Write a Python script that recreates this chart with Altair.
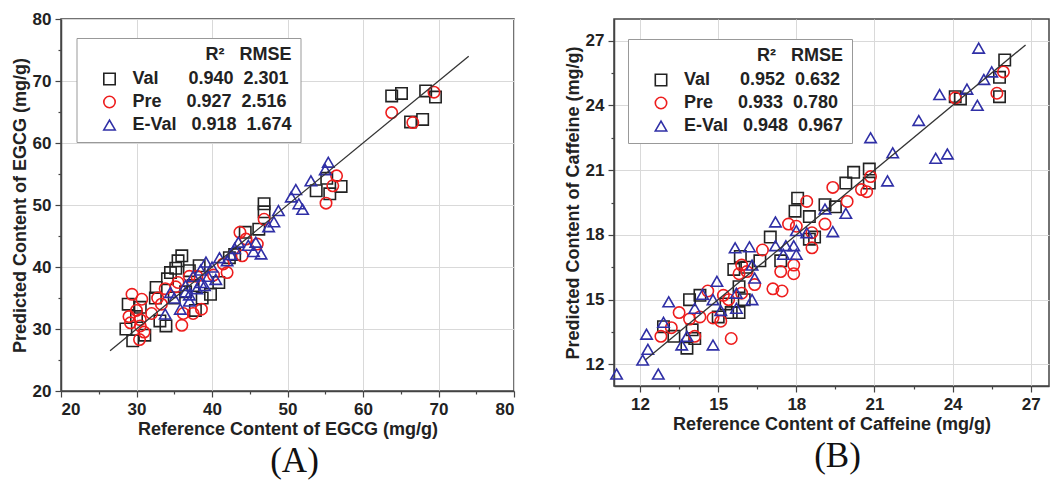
import altair as alt
import pandas as pd

# ---------------- Panel A : EGCG ----------------
a_val_x = [68.3, 69.6, 63.8, 65.1, 67.9, 66.3, 46.9, 46.9, 53.8, 57.1, 55.2, 55.6, 44.4, 46.2,
           36.0, 35.5, 34.5, 35.2, 34.1, 32.6, 32.5, 28.9, 28.6, 29.5, 31.1, 33.1, 33.9, 37.0,
           38.3, 39.8, 40.9, 38.7, 36.5, 37.5, 30.0, 30.5, 35.0, 37.8, 42.3, 43.0]
a_val_y = [68.4, 67.4, 67.6, 68.0, 63.8, 63.4, 50.2, 48.9, 52.3, 53.0, 54.3, 51.8, 45.6, 46.1,
           41.8, 41.0, 39.1, 39.8, 38.1, 36.7, 35.0, 34.0, 30.0, 28.1, 29.0, 31.3, 30.5, 39.4,
           40.2, 35.6, 37.5, 35.0, 36.0, 37.0, 32.0, 33.5, 35.0, 33.0, 41.5, 42.0]

a_pre_x = [69.4, 63.8, 66.6, 56.5, 56.0, 55.1, 46.9, 46.0, 43.7, 44.5, 44.0, 42.0, 40.2, 37.0,
           35.5, 33.8, 29.4, 30.7, 29.0, 29.2, 30.0, 30.5, 30.5, 30.4, 31.0, 32.0, 32.8, 33.3,
           36.0, 36.2, 38.6, 37.5, 35.2, 38.0, 41.5]
a_pre_y = [68.2, 64.9, 63.3, 54.7, 53.1, 50.3, 47.7, 43.7, 45.6, 44.5, 41.8, 39.1, 38.7, 38.5,
           37.5, 36.5, 35.6, 34.8, 32.0, 31.0, 33.0, 31.5, 30.5, 28.3, 29.5, 32.5, 35.0, 34.0,
           30.6, 32.5, 33.2, 32.5, 36.8, 38.5, 40.5]

a_ev_x = [55.4, 55.0, 53.1, 51.1, 50.5, 51.5, 52.0, 48.8, 48.2, 47.5, 46.5, 45.5, 45.8, 44.8,
          43.5, 43.0, 42.5, 42.0, 41.0, 40.0, 39.2, 38.5, 39.5, 38.5, 37.5, 36.5, 37.0, 35.8,
          37.0, 35.0, 34.5, 33.8, 36.5, 38.0, 40.5, 39.0]
a_ev_y = [56.9, 55.7, 53.9, 52.5, 51.3, 50.2, 49.3, 49.1, 47.3, 46.5, 42.1, 42.5, 44.0, 43.5,
          44.0, 43.0, 42.0, 41.0, 41.5, 40.0, 40.8, 39.5, 38.5, 37.5, 38.5, 37.0, 35.5, 33.2,
          34.5, 35.0, 35.9, 32.4, 36.0, 36.5, 38.0, 37.0]

a_line = [26.5, 74.0]
a_stats = {"Val": ("0.940", "2.301"), "Pre": ("0.927", "2.516"), "E-Val": ("0.918", "1.674")}

# ---------------- Panel B : Caffeine ----------------
b_val_x = [26.0, 25.8, 25.8, 24.3, 24.1, 20.8, 20.8, 20.2, 19.9, 19.5, 19.1, 18.05, 17.95, 18.5,
           18.7, 17.0, 16.6, 15.85, 15.6, 16.1, 15.8, 15.5, 15.8, 15.3, 13.9, 14.3, 14.0, 14.1,
           13.8, 13.3, 12.9, 15.0, 16.0, 18.5, 17.4]
b_val_y = [26.1, 25.3, 24.4, 24.3, 24.4, 21.05, 20.4, 20.9, 20.4, 19.3, 19.4, 19.7, 19.1, 18.85,
           17.9, 17.9, 16.8, 17.0, 16.4, 16.5, 15.6, 14.4, 14.4, 14.8, 15.0, 15.2, 13.6, 13.2,
           12.75, 13.3, 13.75, 14.2, 15.0, 17.8, 16.8]

b_pre_x = [25.95, 25.7, 24.1, 20.85, 20.7, 20.5, 19.4, 19.95, 18.4, 19.1, 17.7, 18.0, 18.6, 18.6,
           16.7, 17.9, 17.9, 17.4, 17.1, 17.45, 15.9, 15.8, 16.1, 16.4, 15.9, 14.6, 15.2, 15.4,
           14.8, 15.1, 13.5, 13.9, 14.3, 13.2, 12.8, 14.1, 15.5]
b_pre_y = [25.55, 24.56, 24.35, 20.7, 20.0, 20.1, 20.2, 19.55, 19.55, 18.5, 18.5, 18.4, 18.1, 17.4,
           17.3, 16.6, 16.2, 16.3, 15.5, 15.4, 16.6, 16.2, 16.3, 15.7, 15.3, 15.4, 15.2, 15.0,
           14.15, 14.0, 14.4, 14.1, 14.2, 13.7, 13.3, 13.3, 13.2]

b_ev_x = [25.0, 25.5, 25.2, 24.55, 23.5, 24.95, 22.7, 23.35, 23.8, 20.85, 21.7, 21.5, 19.9, 19.4,
          19.1, 18.4, 18.0, 17.9, 18.0, 17.6, 17.2, 17.2, 17.5, 16.2, 15.65, 16.3, 16.4, 16.3,
          15.7, 15.7, 14.95, 14.8, 15.1, 14.4, 14.1, 13.1, 12.9, 13.8, 13.6, 14.8, 12.25, 12.3,
          12.1, 12.7, 11.1]
b_ev_y = [26.65, 25.55, 25.2, 24.75, 24.5, 24.0, 23.3, 21.55, 21.75, 22.5, 21.8, 20.5, 19.0, 18.15,
          19.2, 18.1, 18.2, 17.5, 17.1, 17.5, 18.6, 17.5, 17.1, 17.45, 17.4, 16.6, 16.0, 15.0,
          15.3, 14.6, 15.85, 15.0, 14.5, 15.25, 14.6, 14.9, 13.95, 13.3, 12.9, 12.9, 13.4, 12.7,
          12.2, 11.55, 11.55]

b_line = [12.2, 26.8]
b_stats = {"Val": ("0.952", "0.632"), "Pre": ("0.933", "0.780"), "E-Val": ("0.948", "0.967")}

SERIES = ["Val", "Pre", "E-Val"]
COLORS = ["#222222", "#ee1d1d", "#2f2fa6"]
SHAPES = ["square", "circle", "triangle-up"]
NB = "\u00a0"
SANS = "Liberation Sans"


def make_df(parts):
    rows = []
    for name, xs, ys in parts:
        assert len(xs) == len(ys)
        for x, y in zip(xs, ys):
            rows.append({"x": x, "y": y, "series": name})
    return pd.DataFrame(rows)


def label_expr(stats):
    pads = {"Val": (6, 2), "Pre": (5, 2), "E-Val": (3, 2)}
    txt = {k: k + NB * pads[k][0] + stats[k][0] + NB * pads[k][1] + stats[k][1] for k in SERIES}
    return ("datum.label == 'Val' ? '%s' : datum.label == 'Pre' ? '%s' : '%s'"
            % (txt["Val"], txt["Pre"], txt["E-Val"]))


def axis(title, values, major_test):
    return alt.Axis(
        title=title, values=values,
        labelExpr=f"({major_test}) ? datum.label : ''",
        tickSize=6,
        tickDash={"condition": {"test": major_test, "value": [6, 0]}, "value": [3, 20]},
        gridOpacity={"condition": {"test": major_test, "value": 1}, "value": 0},
        gridColor="#d9d9d9", gridWidth=1,
        labelFont=SANS, labelFontSize=17, labelFontWeight="bold", labelColor="#222",
        labelPadding=4,
        titleFont=SANS, titleFontSize=18, titleFontWeight="bold", titleColor="#222",
        titlePadding=3,
        domainColor="#444", domainWidth=1.5, tickColor="#444", tickWidth=1.2,
    )


def panel(df, xdom, ydom, xvals, yvals, test, xtitle, ytitle, line_ends, stats,
          caption, cap_dx, lx, ly, w, h):
    legend = alt.Legend(
        orient="none", legendX=lx, legendY=ly,
        title="R²" + NB * 3 + "RMSE", titleAnchor="end",
        titleFont=SANS, titleFontSize=18, titleFontWeight="bold", titleColor="#222",
        titlePadding=6,
        labelFont=SANS, labelFontSize=18, labelFontWeight="bold", labelColor="#222",
        labelExpr=label_expr(stats), labelLimit=400, labelOffset=14,
        symbolSize=130, symbolStrokeWidth=1.6, symbolOffset=16,
        padding=8, rowPadding=5,
        strokeColor="#999999", fillColor="white",
    )
    xs = alt.Scale(domain=xdom, nice=False, zero=False)
    ys = alt.Scale(domain=ydom, nice=False, zero=False)
    xa = axis(xtitle, xvals, test)
    ya = axis(ytitle, yvals, test)
    pts = alt.Chart(df).mark_point(filled=False, size=130, strokeWidth=1.6, opacity=1).encode(
        x=alt.X("x:Q", scale=xs, axis=xa),
        y=alt.Y("y:Q", scale=ys, axis=ya),
        color=alt.Color("series:N", scale=alt.Scale(domain=SERIES, range=COLORS), legend=legend),
        shape=alt.Shape("series:N", scale=alt.Scale(domain=SERIES, range=SHAPES), legend=legend),
    )
    line = alt.Chart(pd.DataFrame({"x": line_ends, "y": line_ends})).mark_line(
        color="#333333", strokeWidth=1.3
    ).encode(x=alt.X("x:Q", scale=xs, axis=xa), y=alt.Y("y:Q", scale=ys, axis=ya))
    return alt.layer(pts, line).properties(
        width=w, height=h,
        title=alt.TitleParams(caption, orient="bottom", anchor="middle", frame="group",
                              font="Liberation Serif", fontSize=35, fontWeight="normal",
                              color="#111", offset=6, dx=cap_dx),
    )


df_a = make_df([("Val", a_val_x, a_val_y), ("Pre", a_pre_x, a_pre_y), ("E-Val", a_ev_x, a_ev_y)])
df_b = make_df([("Val", b_val_x, b_val_y), ("Pre", b_pre_x, b_pre_y), ("E-Val", b_ev_x, b_ev_y)])

a_ticks = [20, 25, 30, 35, 40, 45, 50, 55, 60, 65, 70, 75, 80]
b_ticks = [12, 13.5, 15, 16.5, 18, 19.5, 21, 22.5, 24, 25.5, 27]

pa = panel(df_a, [20, 80], [20, 80], a_ticks, a_ticks, "datum.value % 10 == 0",
           "Reference Content of EGCG (mg/g)", "Predicted Content of EGCG (mg/g)",
           a_line, a_stats, "(A)", 7, 15.5, 19, 453, 372)
pb = panel(df_b, [11, 27.7], [11, 28], b_ticks, b_ticks, "(datum.value - 12) % 3 == 0",
           "Reference Content of Caffeine (mg/g)", "Predicted Content of Caffeine (mg/g)",
           b_line, b_stats, "(B)", 6, 14, 20, 435, 367)

chart = alt.hconcat(pa, pb, spacing=100, bounds="flush").resolve_scale(
    color="independent", shape="independent"
).properties(
    padding={"left": 2, "top": 1, "right": 0, "bottom": 0}
).configure_view(stroke="#444444", strokeWidth=1.5)

chart.save("out.html", embed_options={"renderer": "svg", "actions": False})
